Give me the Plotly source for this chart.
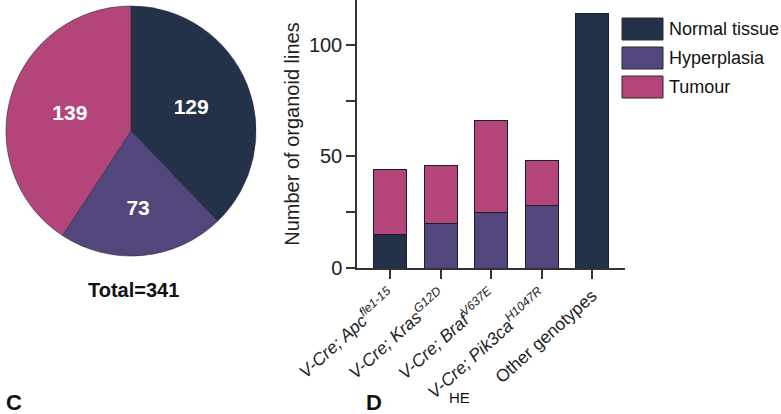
import plotly.graph_objects as go

# ---- data ----
pie_labels = ["Normal tissue", "Hyperplasia", "Tumour"]
pie_values = [129, 73, 139]
total_label = "Total=341"

categories = [
    "<i>V-Cre; Apc<sup>fle1-15</sup></i>",
    "<i>V-Cre; Kras<sup>G12D</sup></i>",
    "<i>V-Cre; Braf<sup>V637E</sup></i>",
    "<i>V-Cre; Pik3ca<sup>H1047R</sup></i>",
    "Other genotypes",
]
normal_vals = [15, None, None, None, 114]
hyper_vals = [None, 20, 25, 28, None]
tumour_vals = [29, 26, 41, 20, None]
series_names = ["Normal tissue", "Hyperplasia", "Tumour"]
y_tickvals = [0, 25, 50, 75, 100]
y_ticktext = ["0", "", "50", "", "100"]

# ---- style ----
NAVY = "#233249"
PURPLE = "#52467c"
PINK = "#b4457a"
colors = [NAVY, PURPLE, PINK]
FONT = "Liberation Sans, Arial, sans-serif"
W, H = 781, 414

fig = go.Figure()

fig.add_trace(go.Pie(
    labels=pie_labels, values=pie_values, sort=False, direction="clockwise",
    rotation=0, textinfo="value", textposition="inside",
    insidetextfont=dict(color="white", size=21, family=FONT, weight="bold"),
    marker=dict(colors=colors, line=dict(color="#2a2a3a", width=0.6)),
    domain=dict(x=[5 / W, 257 / W], y=[1 - 256 / H, 1 - 6 / H]),
    showlegend=False, hoverinfo="label+value",
))

x_idx = list(range(len(categories)))
for name, vals, col in zip(series_names, [normal_vals, hyper_vals, tumour_vals], colors):
    fig.add_trace(go.Bar(
        x=x_idx, y=vals, name=name, marker=dict(color=col, line=dict(color="#1e1e2a", width=1)),
        showlegend=False, xaxis="x", yaxis="y",
    ))

fig.update_layout(
    width=W, height=H, margin=dict(l=0, r=0, t=0, b=0, autoexpand=False),
    paper_bgcolor="white", plot_bgcolor="white",
    barmode="stack", bargap=0.35,
    font=dict(family=FONT, color="#222"),
    xaxis=dict(
        domain=[357 / W, 625 / W], range=[-0.66, 4.65], automargin=False,
        tickvals=x_idx, ticktext=categories, tickangle=-42,
        tickfont=dict(size=17.5, family=FONT, color="#222"),
        showline=True, linecolor="#333", linewidth=1.5,
        ticks="outside", ticklen=9, tickwidth=1.5, tickcolor="#333",
        showgrid=False, zeroline=False,
    ),
    yaxis=dict(
        domain=[1 - 268 / H, 1.0], range=[0, 120], automargin=False,
        tickvals=y_tickvals, ticktext=y_ticktext,
        tickfont=dict(size=20, family=FONT, color="#222"),
        showline=True, linecolor="#333", linewidth=1.5,
        ticks="outside", ticklen=9, tickwidth=1.5, tickcolor="#333",
        showgrid=False, zeroline=False,
        title=dict(text="Number of organoid lines", font=dict(size=20, family=FONT, color="#222"), standoff=4),
    ),
)

# custom legend (boxes + labels)
shapes = []
annotations = []
box_tops = [18, 47, 76]
for name, col, top in zip(series_names, colors, box_tops):
    shapes.append(dict(type="rect", xref="paper", yref="paper",
                       x0=622 / W, x1=663 / W, y0=1 - (top + 22) / H, y1=1 - top / H,
                       fillcolor=col, line=dict(color="#2a2a2a", width=1)))
    annotations.append(dict(text=name, xref="paper", yref="paper", x=667 / W, y=1 - (top + 11) / H,
                            xanchor="left", yanchor="middle", showarrow=False,
                            font=dict(size=18, family=FONT, color="#111")))

annotations.append(dict(text="<b>" + total_label + "</b>", xref="paper", yref="paper",
                        x=133 / W, y=1 - 290 / H, xanchor="center", yanchor="middle",
                        showarrow=False, font=dict(size=20, family=FONT, color="#111")))
annotations.append(dict(text="<b>C</b>", xref="paper", yref="paper", x=4 / W, y=1 - 402 / H,
                        xanchor="left", yanchor="middle", showarrow=False,
                        font=dict(size=22, family=FONT, color="#111")))
annotations.append(dict(text="<b>D</b>", xref="paper", yref="paper", x=364 / W, y=1 - 402 / H,
                        xanchor="left", yanchor="middle", showarrow=False,
                        font=dict(size=22, family=FONT, color="#111")))
annotations.append(dict(text="HE", xref="paper", yref="paper", x=459 / W, y=1 - 397 / H,
                        xanchor="center", yanchor="middle", showarrow=False,
                        font=dict(size=15, family=FONT, color="#111")))
fig.update_layout(shapes=shapes, annotations=annotations)

fig.write_html("out.html", config={"displayModeBar": False})

# remove the default page margin so the figure sits at the window's top-left corner
with open("out.html", "r", encoding="utf-8") as f:
    html = f.read()
html = html.replace("<head>", "<head><style>html,body{margin:0;padding:0;overflow:hidden}</style>", 1)
with open("out.html", "w", encoding="utf-8") as f:
    f.write(html)
